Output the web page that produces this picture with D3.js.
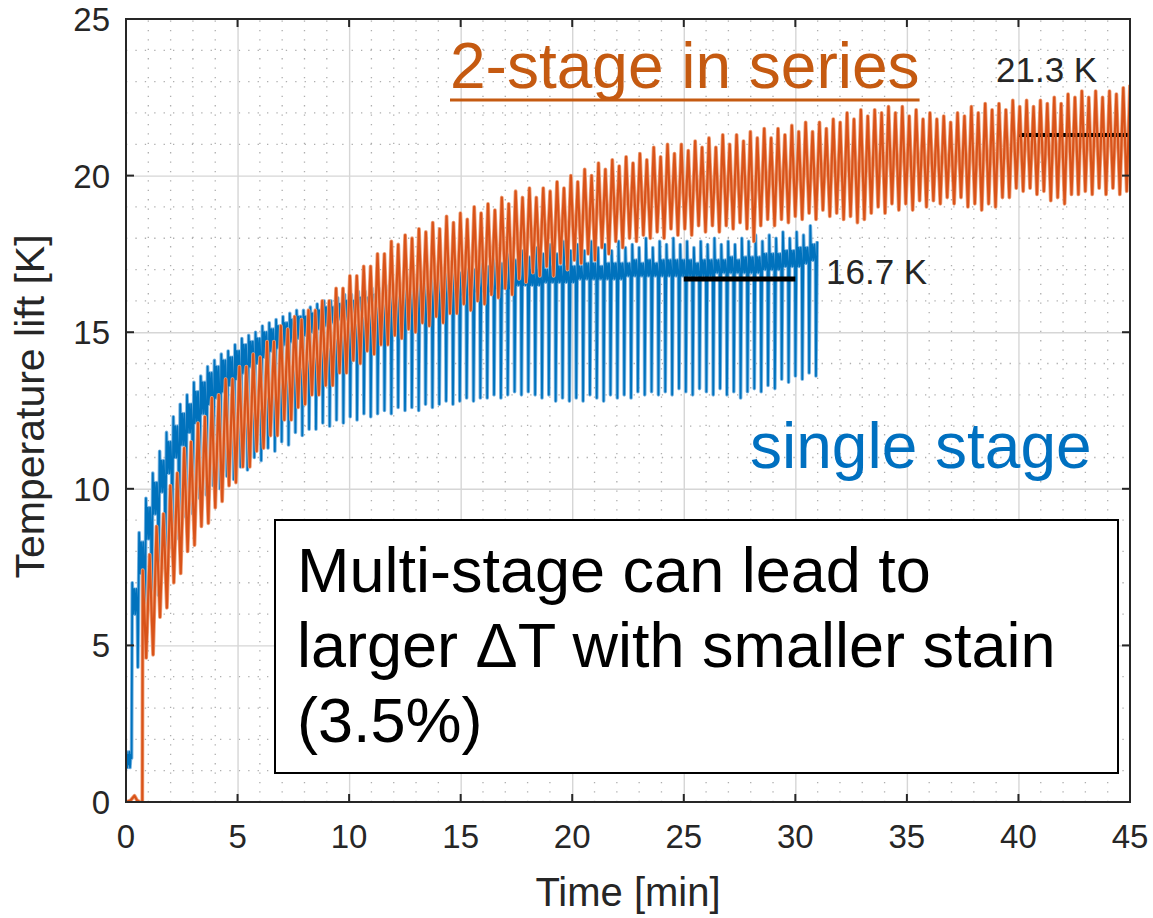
<!DOCTYPE html>
<html>
<head>
<meta charset="utf-8">
<script src="https://cdn.jsdelivr.net/npm/d3@7"></script>
<style>
  html, body { margin: 0; padding: 0; background: #ffffff; }
  svg { display: block; }
  text { font-family: "Liberation Sans", Arial, Helvetica, sans-serif; }
</style>
</head>
<body>
<svg id="chart" width="1153" height="918"></svg>
<script>
// ---- axis ticks ----
const xTicks = [0, 5, 10, 15, 20, 25, 30, 35, 40, 45];
const yTicks = [0, 5, 10, 15, 20, 25];
const xTickLabels = xTicks.map(String);
const yTickLabels = yTicks.map(String);

// ---- single stage: quiet start before the first cycle (time [min], lift [K]) ----
const blueStartT = [0.00, 0.03, 0.06, 0.09, 0.12, 0.15, 0.18, 0.21, 0.25];
const blueStartV = [1.3, 1.6, 1.1, 1.5, 1.2, 1.6, 1.1, 1.5, 1.4];
// cycle start time and cycle period [min]
const blueT0 = 0.28;
const bluePeriod = 0.307;
// per-cycle values [K]: recovery peak, dense-band top, dense-band bottom, cycle minimum
const bluePeak = [
  7.0, 8.6, 9.7, 10.5, 11.2, 11.8, 12.3, 12.7, 13.0, 13.4,
  13.6, 13.9, 14.1, 14.3, 14.4, 14.6, 14.8, 14.9, 15.0, 15.2,
  15.3, 15.4, 15.5, 15.6, 15.7, 15.7, 15.8, 15.9, 16.0, 16.0,
  16.1, 16.2, 16.2, 16.3, 16.3, 16.4, 16.4, 16.5, 16.5, 16.6,
  16.6, 16.7, 16.8, 16.7, 16.9, 16.8, 17.0, 17.1, 16.9, 17.2,
  17.0, 17.3, 17.1, 17.4, 17.2, 17.5, 17.3, 17.6, 17.4, 17.7,
  17.5, 17.8, 17.5, 17.9, 17.6, 17.8, 17.6, 17.9, 17.7, 17.8,
  17.6, 17.9, 17.7, 17.8, 17.7, 18.0, 17.7, 17.9, 17.8, 18.0,
  17.8, 17.9, 17.7, 17.9, 17.8, 18.0, 17.8, 17.9, 17.8, 18.0,
  17.9, 18.1, 17.9, 18.1, 18.0, 18.2, 18.0, 18.2, 18.1, 18.4
];
const blueBand = [
  6.8, 8.3, 9.4, 10.2, 10.9, 11.5, 12.0, 12.4, 12.7, 13.1,
  13.4, 13.7, 13.9, 14.1, 14.2, 14.4, 14.6, 14.7, 14.8, 15.0,
  15.1, 15.2, 15.3, 15.4, 15.5, 15.5, 15.6, 15.7, 15.8, 15.8,
  15.9, 16.0, 16.0, 16.1, 16.1, 16.2, 16.2, 16.3, 16.3, 16.4,
  16.4, 16.4, 16.5, 16.5, 16.5, 16.6, 16.6, 16.6, 16.7, 16.7,
  16.7, 16.8, 16.8, 16.8, 16.9, 16.9, 16.9, 17.0, 17.0, 17.0,
  17.0, 17.1, 17.1, 17.1, 17.1, 17.1, 17.2, 17.2, 17.1, 17.2,
  17.2, 17.2, 17.2, 17.3, 17.2, 17.3, 17.2, 17.3, 17.3, 17.3,
  17.3, 17.3, 17.2, 17.3, 17.3, 17.3, 17.3, 17.4, 17.3, 17.4,
  17.4, 17.4, 17.5, 17.5, 17.5, 17.6, 17.6, 17.7, 17.7, 17.8
];
const blueBase = [
  6.0, 7.3, 8.4, 9.2, 9.9, 10.5, 11.0, 11.4, 11.8, 12.1,
  12.4, 12.7, 12.9, 13.1, 13.3, 13.5, 13.7, 13.9, 14.0, 14.2,
  14.4, 14.5, 14.6, 14.7, 14.8, 14.9, 15.0, 15.1, 15.2, 15.3,
  15.4, 15.4, 15.5, 15.6, 15.6, 15.7, 15.7, 15.8, 15.8, 15.9,
  15.9, 16.0, 16.0, 16.0, 16.1, 16.1, 16.1, 16.2, 16.2, 16.2,
  16.3, 16.3, 16.3, 16.4, 16.4, 16.4, 16.5, 16.5, 16.5, 16.5,
  16.6, 16.6, 16.6, 16.6, 16.6, 16.7, 16.7, 16.7, 16.7, 16.7,
  16.7, 16.7, 16.8, 16.8, 16.8, 16.8, 16.8, 16.8, 16.8, 16.8,
  16.8, 16.8, 16.8, 16.8, 16.8, 16.9, 16.9, 16.9, 16.9, 16.9,
  16.9, 16.9, 17.0, 17.0, 17.0, 17.1, 17.1, 17.1, 17.2, 17.3
];
const blueLow = [
  4.3, 4.9, 6.1, 6.6, 7.5, 8.1, 8.4, 9.1, 9.2, 9.7,
  9.8, 10.1, 10.0, 10.4, 10.3, 10.7, 10.6, 11.0, 10.9, 11.3,
  11.2, 11.5, 11.4, 11.8, 11.7, 11.9, 11.9, 12.1, 12.0, 12.2,
  12.1, 12.3, 12.2, 12.4, 12.3, 12.4, 12.5, 12.4, 12.6, 12.5,
  12.6, 12.5, 12.7, 12.6, 12.7, 12.8, 12.7, 12.8, 12.9, 12.8,
  12.9, 12.9, 13.0, 12.9, 13.0, 13.1, 13.0, 13.1, 13.0, 12.9,
  13.0, 12.8, 12.9, 12.8, 12.9, 12.8, 13.0, 12.9, 12.8, 13.0,
  12.9, 13.0, 12.9, 13.1, 13.0, 13.1, 13.0, 13.1, 13.0, 13.2,
  13.1, 13.0, 13.2, 13.1, 13.0, 13.2, 13.0, 13.1, 12.9, 13.1,
  13.2, 13.1, 13.3, 13.2, 13.5, 13.4, 13.6, 13.5, 13.7, 13.6
];
const blueEndT = 30.98;
const blueEndV = 17.9;

// ---- 2-stage in series: flat start, then per-cycle maxima / minima ----
const orangeStartT = [0.00, 0.20, 0.38, 0.50, 0.62, 0.73];
const orangeStartV = [0.0, 0.05, 0.2, 0.05, 0.0, 0.0];
const orangeT0 = 0.75;
const orangePeriod = 0.3095;
const orangeHi = [
  7.4, 7.9, 8.8, 9.2, 10.1, 10.5, 11.3, 11.5, 12.1, 12.3,
  12.9, 13.0, 13.5, 13.5, 13.9, 13.9, 14.3, 14.2, 14.7, 14.7,
  15.2, 15.1, 15.5, 15.4, 15.7, 15.7, 16.0, 16.0, 16.4, 16.4,
  16.8, 16.8, 17.1, 17.1, 17.5, 17.5, 17.9, 17.8, 18.1, 18.0,
  18.3, 18.2, 18.5, 18.3, 18.7, 18.5, 18.8, 18.6, 19.0, 18.8,
  19.1, 18.9, 19.3, 19.1, 19.5, 19.3, 19.6, 19.3, 19.6, 19.5,
  19.8, 19.6, 20.0, 19.8, 20.2, 20.0, 20.4, 20.2, 20.5, 20.3,
  20.6, 20.4, 20.7, 20.5, 20.9, 20.6, 21.0, 20.7, 21.0, 20.8,
  21.1, 20.9, 21.2, 20.9, 21.3, 21.0, 21.3, 21.1, 21.4, 21.2,
  21.5, 21.2, 21.5, 21.3, 21.6, 21.4, 21.7, 21.4, 21.7, 21.5,
  21.8, 21.7, 22.0, 21.8, 22.1, 21.9, 22.1, 22.0, 22.2, 22.0,
  22.2, 21.9, 22.1, 21.8, 22.0, 21.8, 21.9, 21.7, 22.0, 21.9,
  22.2, 22.0, 22.3, 22.1, 22.3, 22.1, 22.4, 22.2, 22.4, 22.2,
  22.4, 22.3, 22.5, 22.3, 22.6, 22.5, 22.7, 22.5, 22.7, 22.5,
  22.7, 22.6, 22.8
];
const orangeLo = [
  4.6, 4.7, 5.9, 6.2, 7.0, 7.3, 8.0, 8.2, 8.8, 8.9,
  9.4, 9.6, 10.1, 10.2, 10.7, 10.7, 11.2, 11.3, 11.7, 11.7,
  12.2, 12.2, 12.6, 12.7, 13.0, 13.0, 13.3, 13.3, 13.7, 13.7,
  14.1, 14.0, 14.4, 14.3, 14.6, 14.6, 14.9, 14.8, 15.1, 15.0,
  15.3, 15.2, 15.5, 15.3, 15.6, 15.6, 15.9, 15.7, 16.0, 15.9,
  16.2, 16.1, 16.4, 16.2, 16.7, 16.6, 16.9, 16.8, 17.1, 16.8,
  17.2, 17.0, 17.3, 17.2, 17.5, 17.3, 17.7, 17.5, 17.9, 17.7,
  18.0, 17.9, 18.1, 18.0, 18.2, 18.0, 18.3, 18.1, 18.3, 18.1,
  18.4, 18.2, 18.4, 18.2, 18.4, 18.3, 18.5, 18.3, 17.9, 18.4,
  18.6, 18.4, 18.6, 18.5, 18.7, 18.6, 18.8, 18.6, 18.9, 18.7,
  18.8, 18.6, 18.7, 18.5, 18.6, 18.8, 19.0, 18.8, 19.1, 18.9,
  19.1, 18.9, 19.2, 19.0, 19.2, 19.1, 19.3, 19.1, 19.3, 19.0,
  19.1, 18.9, 19.1, 19.0, 19.3, 19.3, 19.6, 19.5, 19.6, 19.4,
  19.5, 19.2, 19.3, 19.1, 19.4, 19.4, 19.5, 19.4, 19.6, 19.4,
  19.6, 19.4, 19.5
];
const orangeEndT = 45.0;
const orangeEndV = 22.9;

// ---- averaged plateau markers ----
const plateauValues = [16.7, 21.3];
const plateauFrom = [25, 40];
const plateauTo = [30, 45];
const plateauLabels = ["16.7 K", "21.3 K"];

// ---- layout ----
const svg = d3.select("#chart");
const plot = { left: 126, right: 1130, top: 19, bottom: 802 };
const x = d3.scaleLinear().domain([0, 45]).range([plot.left, plot.right]);
const y = d3.scaleLinear().domain([0, 25]).range([plot.bottom, plot.top]);
const ink = "#262626";

svg.append("rect").attr("width", 1153).attr("height", 918).attr("fill", "#fff");

svg.append("defs").append("clipPath").attr("id", "plotClip")
  .append("rect")
  .attr("x", plot.left).attr("y", plot.top)
  .attr("width", plot.right - plot.left).attr("height", plot.bottom - plot.top);

// minor grid (dotted, every 1 unit)
const minorX = d3.range(1, 45).filter(v => v % 5 !== 0);
const minorY = d3.range(1, 25).filter(v => v % 5 !== 0);
const grid = svg.append("g");
grid.selectAll(".mx").data(minorX).join("line")
  .attr("x1", d => x(d)).attr("x2", d => x(d))
  .attr("y1", plot.bottom).attr("y2", plot.top)
  .attr("stroke", "#9a9a9a").attr("stroke-width", 1.3)
  .attr("stroke-dasharray", "1.3,8.1").attr("opacity", 0.8);
grid.selectAll(".my").data(minorY).join("line")
  .attr("x1", plot.left).attr("x2", plot.right)
  .attr("y1", d => y(d)).attr("y2", d => y(d))
  .attr("stroke", "#9a9a9a").attr("stroke-width", 1.3)
  .attr("stroke-dasharray", "1.3,8.1").attr("opacity", 0.8);

// major grid via axes with full-length ticks
const gx = svg.append("g").attr("transform", `translate(0,${plot.bottom})`)
  .call(d3.axisBottom(x).tickValues(xTicks.slice(1, -1)).tickSize(-(plot.bottom - plot.top)).tickFormat(""));
const gy = svg.append("g").attr("transform", `translate(${plot.left},0)`)
  .call(d3.axisLeft(y).tickValues(yTicks.slice(1, -1)).tickSize(-(plot.right - plot.left)).tickFormat(""));
[gx, gy].forEach(g => {
  g.select(".domain").remove();
  g.selectAll("line").attr("stroke", "#d6d6d6").attr("stroke-width", 1.4);
});

// ---- series ----
const line = d3.line().x(d => x(d[0])).y(d => y(d[1]));

const bluePts = blueStartT.map((t, i) => [t, blueStartV[i]]);
bluePeak.forEach((p, i) => {
  const t0 = blueT0 + i * bluePeriod;
  bluePts.push(
    [t0, p],
    [t0 + 0.12 * bluePeriod, blueBase[i]],
    [t0 + 0.28 * bluePeriod, blueBand[i]],
    [t0 + 0.44 * bluePeriod, blueBase[i]],
    [t0 + 0.60 * bluePeriod, blueBand[i]],
    [t0 + 0.75 * bluePeriod, blueBase[i]],
    [t0 + 0.82 * bluePeriod, blueLow[i]]
  );
});
bluePts.push([blueEndT, blueEndV]);

const orangePts = orangeStartT.map((t, i) => [t, orangeStartV[i]]);
orangeHi.forEach((h, j) => {
  const t0 = orangeT0 + j * orangePeriod;
  orangePts.push([t0, h], [t0 + 0.5 * orangePeriod, orangeLo[j]]);
});
orangePts.push([orangeEndT, orangeEndV]);

const plateauLine = (sel) => sel
  .attr("x1", (d, i) => x(plateauFrom[i])).attr("x2", (d, i) => x(plateauTo[i]))
  .attr("y1", d => y(d)).attr("y2", d => y(d))
  .attr("stroke", "#000").attr("stroke-width", 5);

const series = svg.append("g").attr("clip-path", "url(#plotClip)");
// soft halo under a crisp core for each trace
series.append("path").datum(bluePts)
  .attr("d", line).attr("fill", "none")
  .attr("stroke", "#7db6e2").attr("stroke-width", 3.6).attr("stroke-linejoin", "round");
series.append("path").datum(bluePts)
  .attr("d", line).attr("fill", "none")
  .attr("stroke", "#0072BD").attr("stroke-width", 1.8).attr("stroke-linejoin", "round");

// single-stage plateau sits on top of its trace
series.append("g").selectAll("line").data(plateauValues.slice(0, 1)).join("line").call(plateauLine);

series.append("path").datum(orangePts)
  .attr("d", line).attr("fill", "none")
  .attr("stroke", "#eea27c").attr("stroke-width", 3.8).attr("stroke-linejoin", "round");

// 2-stage plateau shows between the strokes of its trace
series.append("g").selectAll("line").data(plateauValues.slice(1)).join("line")
  .attr("x1", x(plateauFrom[1])).attr("x2", x(plateauTo[1]))
  .attr("y1", d => y(d)).attr("y2", d => y(d))
  .attr("stroke", "#000").attr("stroke-width", 4);

series.append("path").datum(orangePts)
  .attr("d", line).attr("fill", "none")
  .attr("stroke", "#D95319").attr("stroke-width", 2.2).attr("stroke-linejoin", "round");

// ---- axes box with inward ticks ----
const axes = svg.append("g").attr("stroke", ink).attr("stroke-width", 2);
axes.append("rect")
  .attr("x", plot.left).attr("y", plot.top)
  .attr("width", plot.right - plot.left).attr("height", plot.bottom - plot.top)
  .attr("fill", "none");
const tk = 8;
axes.selectAll(".tb").data(xTicks).join("line")
  .attr("x1", d => x(d)).attr("x2", d => x(d))
  .attr("y1", plot.bottom).attr("y2", plot.bottom - tk);
axes.selectAll(".tt").data(xTicks).join("line")
  .attr("x1", d => x(d)).attr("x2", d => x(d))
  .attr("y1", plot.top).attr("y2", plot.top + tk);
axes.selectAll(".tl").data(yTicks).join("line")
  .attr("x1", plot.left).attr("x2", plot.left + tk)
  .attr("y1", d => y(d)).attr("y2", d => y(d));
axes.selectAll(".tr").data(yTicks).join("line")
  .attr("x1", plot.right).attr("x2", plot.right - tk)
  .attr("y1", d => y(d)).attr("y2", d => y(d));

// tick labels
svg.append("g").selectAll("text").data(xTicks).join("text")
  .attr("x", d => x(d)).attr("y", 848)
  .attr("text-anchor", "middle").attr("font-size", 33).attr("fill", ink)
  .text((d, i) => xTickLabels[i]);
svg.append("g").selectAll("text").data(yTicks).join("text")
  .attr("x", 110).attr("y", d => y(d) + 12)
  .attr("text-anchor", "end").attr("font-size", 33).attr("fill", ink)
  .text((d, i) => yTickLabels[i]);

// axis titles
svg.append("text").attr("x", (plot.left + plot.right) / 2).attr("y", 906)
  .attr("text-anchor", "middle").attr("font-size", 40).attr("fill", ink)
  .text("Time [min]");
svg.append("text")
  .attr("transform", `translate(44,${(plot.top + plot.bottom) / 2 - 4}) rotate(-90)`)
  .attr("text-anchor", "middle").attr("font-size", 41).attr("fill", ink)
  .text("Temperature lift [K]");

// plateau value labels
svg.append("text").attr("x", 826).attr("y", 284)
  .attr("font-size", 35).attr("fill", ink).text(plateauLabels[0]);
svg.append("text").attr("x", 996).attr("y", 82)
  .attr("font-size", 35).attr("fill", ink).text(plateauLabels[1]);

// series captions
const cap = svg.append("text").attr("x", 450).attr("y", 88)
  .attr("font-size", 64).attr("fill", "#C55A11").text("2-stage in series");
const capW = cap.node().getComputedTextLength();
svg.append("line").attr("x1", 450).attr("x2", 450 + capW)
  .attr("y1", 100).attr("y2", 100)
  .attr("stroke", "#C55A11").attr("stroke-width", 3);

svg.append("text").attr("x", 750).attr("y", 468)
  .attr("font-size", 64).attr("fill", "#0070C0").text("single stage");

// note box
svg.append("rect").attr("x", 275).attr("y", 520).attr("width", 843).attr("height", 253)
  .attr("fill", "#fff").attr("stroke", "#000").attr("stroke-width", 2);
const note = svg.append("text").attr("font-size", 63).attr("fill", "#000");
["Multi-stage can lead to", "larger \u0394T with smaller stain", "(3.5%)"].forEach((s, i) => {
  note.append("tspan").attr("x", 297).attr("y", 592 + i * 75).text(s);
});
</script>
</body>
</html>
